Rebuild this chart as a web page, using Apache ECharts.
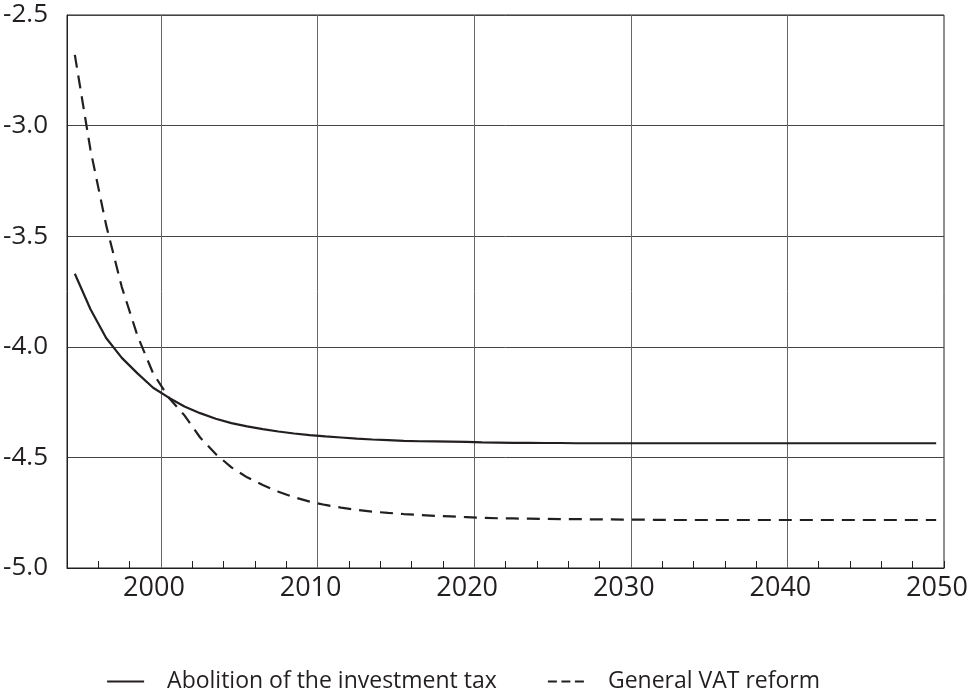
<!DOCTYPE html>
<html>
<head>
<meta charset="utf-8">
<script src="https://cdn.jsdelivr.net/npm/echarts@6/dist/echarts.min.js"></script>
<style>
html,body{margin:0;padding:0;background:#fff;}
#chart{width:969px;height:692px;}
</style>
</head>
<body>
<div id="chart"></div>
<script>
// Mid-year observation points
var years = [1994.5,1995.5,1996.5,1997.5,1998.5,1999.5,2000.5,2001.5,2002.5,2003.5,
  2004.5,2005.5,2006.5,2007.5,2008.5,2009.5,2010.5,2011.5,2012.5,2013.5,
  2014.5,2015.5,2016.5,2017.5,2018.5,2019.5,2020.5,2021.5,2022.5,2023.5,
  2024.5,2025.5,2026.5,2027.5,2028.5,2029.5,2030.5,2031.5,2032.5,2033.5,
  2034.5,2035.5,2036.5,2037.5,2038.5,2039.5,2040.5,2041.5,2042.5,2043.5,
  2044.5,2045.5,2046.5,2047.5,2048.5,2049.5];

var investmentTax = [-3.67,-3.83,-3.96,-4.05,-4.12,-4.185,-4.23,-4.27,-4.30,-4.325,
  -4.345,-4.36,-4.372,-4.383,-4.392,-4.399,-4.405,-4.41,-4.415,-4.419,
  -4.422,-4.425,-4.427,-4.428,-4.429,-4.43,-4.432,-4.433,-4.434,-4.434,
  -4.435,-4.435,-4.436,-4.436,-4.436,-4.436,-4.436,-4.436,-4.436,-4.436,
  -4.436,-4.436,-4.436,-4.436,-4.436,-4.436,-4.436,-4.436,-4.436,-4.436,
  -4.436,-4.436,-4.436,-4.436,-4.436,-4.436];

var vatReform = [-2.68,-3.11,-3.45,-3.73,-3.95,-4.12,-4.23,-4.31,-4.41,-4.485,
  -4.545,-4.59,-4.625,-4.655,-4.68,-4.70,-4.715,-4.727,-4.737,-4.745,
  -4.751,-4.756,-4.76,-4.764,-4.767,-4.77,-4.773,-4.775,-4.776,-4.777,
  -4.778,-4.779,-4.779,-4.78,-4.78,-4.781,-4.781,-4.782,-4.783,-4.783,
  -4.783,-4.783,-4.783,-4.783,-4.783,-4.783,-4.783,-4.783,-4.783,-4.783,
  -4.783,-4.783,-4.783,-4.783,-4.783,-4.783];

var seriesNames = ['Abolition of the investment tax', 'General VAT reform'];
var decadeGridYears = [2000, 2010, 2020, 2030, 2040];

function pairs(xs, ys) {
  return xs.map(function (x, i) { return [x, ys[i]]; });
}

var textColor = '#231f20';
var fontFamily = '"Open Sans", "Noto Sans", sans-serif';

var chart = echarts.init(document.getElementById('chart'), null, {renderer: 'canvas'});
chart.setOption({
  animation: false,
  backgroundColor: '#fff',
  color: [textColor, textColor],
  textStyle: {fontFamily: fontFamily, color: textColor},
  grid: {
    left: 67, right: 25, top: 15, bottom: 124,
    outerBoundsMode: 'none', containLabel: false,
    show: true, borderColor: '#231f20', borderWidth: 1, backgroundColor: 'transparent'
  },
  legend: {
    left: 101, top: 665,
    itemWidth: 37, itemHeight: 14, itemGap: 50,
    textStyle: {fontSize: 23, color: textColor, fontFamily: fontFamily, padding: [0, 0, 0, 18]},
    data: [
      {name: seriesNames[0], itemStyle: {opacity: 0}, lineStyle: {type: 'solid', width: 2.2, color: textColor}},
      {name: seriesNames[1], itemStyle: {opacity: 0}, lineStyle: {type: [9, 4.5], width: 2.2, color: textColor}}
    ]
  },
  xAxis: {
    type: 'value', min: 1994, max: 2050, interval: 2,
    axisLine: {show: true, onZero: false, lineStyle: {color: textColor, width: 1}},
    axisTick: {show: true, inside: true, length: 7, lineStyle: {color: textColor, width: 1}},
    axisLabel: {
      fontSize: 27, color: textColor, fontFamily: fontFamily, margin: 7,
      padding: [0, 14, 0, 0],
      formatter: function (v) { return (v % 10 === 0) ? String(v) : ''; }
    },
    splitLine: {show: false}
  },
  yAxis: {
    type: 'value', min: -5, max: -2.5, interval: 0.5,
    axisLine: {show: true, lineStyle: {color: textColor, width: 1}},
    axisTick: {show: false},
    axisLabel: {
      fontSize: 26, color: textColor, fontFamily: fontFamily, margin: 19,
      formatter: function (v) { return v.toFixed(1); }
    },
    splitLine: {show: true, lineStyle: {color: '#444', width: 1}}
  },
  series: [
    {
      name: seriesNames[0], type: 'line', data: pairs(years, investmentTax),
      showSymbol: false, symbol: 'none', smooth: false,
      itemStyle: {color: textColor},
      lineStyle: {color: textColor, width: 2.2, type: 'solid'},
      z: 3,
      markLine: {
        silent: true, symbol: 'none', animation: false,
        label: {show: false},
        lineStyle: {color: '#666', width: 1, type: 'solid'},
        data: decadeGridYears.map(function (y) { return {xAxis: y}; }),
        z: 1
      }
    },
    {
      name: seriesNames[1], type: 'line', data: pairs(years, vatReform),
      showSymbol: false, symbol: 'none', smooth: false,
      itemStyle: {color: textColor},
      lineStyle: {color: textColor, width: 2.2, type: [13, 8]},
      z: 3
    }
  ]
});
</script>
</body>
</html>
